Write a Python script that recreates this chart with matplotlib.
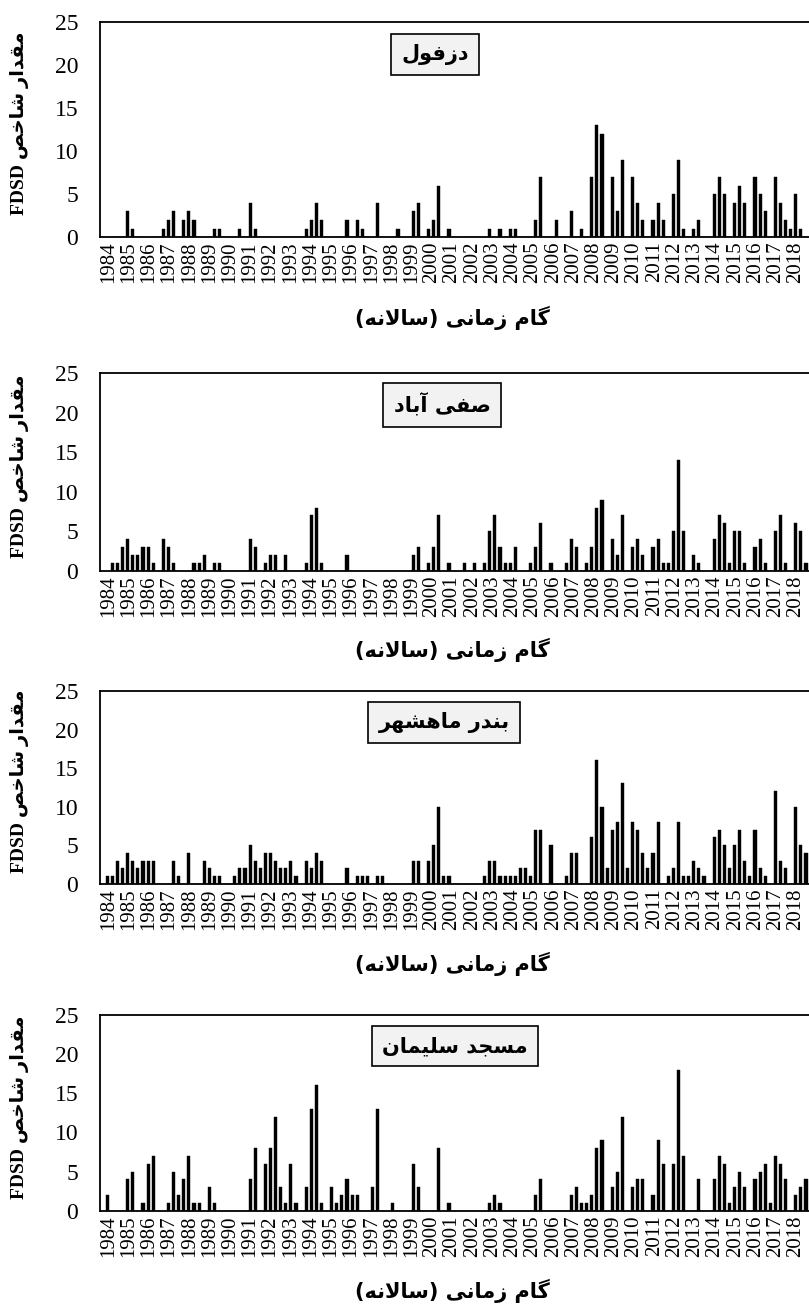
import numpy as np
import matplotlib
matplotlib.use('Agg')
import matplotlib.pyplot as plt

# ---- data (4 bars per year, 1984-2018) ----
years = list(range(1984, 2019))
stations = ['دزفول', 'صفی آباد', 'بندر ماهشهر', 'مسجد سلیمان']

dezful = [0, 0, 0, 0, 0, 3, 1, 0, 0, 0, 0, 0, 1, 2, 3, 0, 2, 3, 2, 0,
          0, 0, 1, 1, 0, 0, 0, 1, 0, 4, 1, 0, 0, 0, 0, 0, 0, 0, 0, 0,
          1, 2, 4, 2, 0, 0, 0, 0, 2, 0, 2, 1, 0, 0, 4, 0, 0, 0, 1, 0,
          0, 3, 4, 0, 1, 2, 6, 0, 1, 0, 0, 0, 0, 0, 0, 0, 1, 0, 1, 0,
          1, 1, 0, 0, 0, 2, 7, 0, 0, 2, 0, 0, 3, 0, 1, 0, 7, 13, 12, 0,
          7, 3, 9, 0, 7, 4, 2, 0, 2, 4, 2, 0, 5, 9, 1, 0, 1, 2, 0, 0,
          5, 7, 5, 0, 4, 6, 4, 0, 7, 5, 3, 0, 7, 4, 2, 1, 5, 1, 0, 0]

safiabad = [0, 0, 1, 1, 3, 4, 2, 2, 3, 3, 1, 0, 4, 3, 1, 0, 0, 0, 1, 1,
            2, 0, 1, 1, 0, 0, 0, 0, 0, 4, 3, 0, 1, 2, 2, 0, 2, 0, 0, 0,
            1, 7, 8, 1, 0, 0, 0, 0, 2, 0, 0, 0, 0, 0, 0, 0, 0, 0, 0, 0,
            0, 2, 3, 0, 1, 3, 7, 0, 1, 0, 0, 1, 0, 1, 0, 1, 5, 7, 3, 1,
            1, 3, 0, 0, 1, 3, 6, 0, 1, 0, 0, 1, 4, 3, 0, 1, 3, 8, 9, 0,
            4, 2, 7, 0, 3, 4, 2, 0, 3, 4, 1, 1, 5, 14, 5, 0, 2, 1, 0, 0,
            4, 7, 6, 1, 5, 5, 1, 0, 3, 4, 1, 0, 5, 7, 1, 0, 6, 5, 1, 0]

mahshahr = [0, 1, 1, 3, 2, 4, 3, 2, 3, 3, 3, 0, 0, 0, 3, 1, 0, 4, 0, 0,
            3, 2, 1, 1, 0, 0, 1, 2, 2, 5, 3, 2, 4, 4, 3, 2, 2, 3, 1, 0,
            3, 2, 4, 3, 0, 0, 0, 0, 2, 0, 1, 1, 1, 0, 1, 1, 0, 0, 0, 0,
            0, 3, 3, 0, 3, 5, 10, 1, 1, 0, 0, 0, 0, 0, 0, 1, 3, 3, 1, 1,
            1, 1, 2, 2, 1, 7, 7, 0, 5, 0, 0, 1, 4, 4, 0, 0, 6, 16, 10, 2,
            7, 8, 13, 2, 8, 7, 4, 2, 4, 8, 0, 1, 2, 8, 1, 1, 3, 2, 1, 0,
            6, 7, 5, 2, 5, 7, 3, 1, 7, 2, 1, 0, 12, 3, 2, 0, 10, 5, 4, 0]

soleyman = [0, 2, 0, 0, 0, 4, 5, 0, 1, 6, 7, 0, 0, 1, 5, 2, 4, 7, 1, 1,
            0, 3, 1, 0, 0, 0, 0, 0, 0, 4, 8, 0, 6, 8, 12, 3, 1, 6, 1, 0,
            3, 13, 16, 1, 0, 3, 1, 2, 4, 2, 2, 0, 0, 3, 13, 0, 0, 1, 0, 0,
            0, 6, 3, 0, 0, 0, 8, 0, 1, 0, 0, 0, 0, 0, 0, 0, 1, 2, 1, 0,
            0, 0, 0, 0, 0, 2, 4, 0, 0, 0, 0, 0, 2, 3, 1, 1, 2, 8, 9, 0,
            3, 5, 12, 0, 3, 4, 4, 0, 2, 9, 6, 0, 6, 18, 7, 0, 0, 4, 0, 0,
            4, 7, 6, 1, 3, 5, 3, 0, 4, 5, 6, 1, 7, 6, 4, 0, 2, 3, 4, 0]

series = [dezful, safiabad, mahshahr, soleyman]
xlabel_fa = 'گام زمانی (سالانه)'
ylabel_fa = 'مقدار شاخص'
index_name = 'FDSD'

# ---- simple persian shaping (matplotlib has no complex text layout) ----
AR_FORMS = {
    'ا': ('\ufe8d', '\ufe8e', None, None),
    'آ': ('\ufe81', '\ufe82', None, None),
    'ب': ('\ufe8f', '\ufe90', '\ufe91', '\ufe92'),
    'ج': ('\ufe9d', '\ufe9e', '\ufe9f', '\ufea0'),
    'خ': ('\ufea5', '\ufea6', '\ufea7', '\ufea8'),
    'د': ('\ufea9', '\ufeaa', None, None),
    'ر': ('\ufead', '\ufeae', None, None),
    'ز': ('\ufeaf', '\ufeb0', None, None),
    'س': ('\ufeb1', '\ufeb2', '\ufeb3', '\ufeb4'),
    'ش': ('\ufeb5', '\ufeb6', '\ufeb7', '\ufeb8'),
    'ص': ('\ufeb9', '\ufeba', '\ufebb', '\ufebc'),
    'ف': ('\ufed1', '\ufed2', '\ufed3', '\ufed4'),
    'ق': ('\ufed5', '\ufed6', '\ufed7', '\ufed8'),
    'ل': ('\ufedd', '\ufede', '\ufedf', '\ufee0'),
    'م': ('\ufee1', '\ufee2', '\ufee3', '\ufee4'),
    'ن': ('\ufee5', '\ufee6', '\ufee7', '\ufee8'),
    'ه': ('\ufee9', '\ufeea', '\ufeeb', '\ufeec'),
    'و': ('\ufeed', '\ufeee', None, None),
    'ی': ('\ufbfc', '\ufbfd', '\ufbfe', '\ufbff'),
    'گ': ('\ufb92', '\ufb93', '\ufb94', '\ufb95'),
}


def rtl(text):
    out = []
    i, n = 0, len(text)
    while i < n:
        c = text[i]
        prev = text[i - 1] if i > 0 else ''
        joins_prev = prev in AR_FORMS and AR_FORMS[prev][2] is not None
        if c == 'ل' and i + 1 < n and text[i + 1] == 'ا':
            out.append('\ufefc' if joins_prev else '\ufefb')
            i += 2
            continue
        if c in AR_FORMS:
            iso, fin, ini, med = AR_FORMS[c]
            nxt = text[i + 1] if i + 1 < n else ''
            joins_next = ini is not None and nxt in AR_FORMS
            if joins_prev and joins_next:
                out.append(med)
            elif joins_prev:
                out.append(fin)
            elif joins_next:
                out.append(ini)
            else:
                out.append(iso)
        else:
            out.append(c)
        i += 1
    vis = ''.join(reversed(out))
    return vis.translate(str.maketrans('()', ')('))


W, H = 809, 1307
fig = plt.figure(figsize=(W / 100, H / 100), dpi=100)

# panel frames in pixels: (top, baseline)
frames = [(22, 237.3), (373.3, 570.7), (691, 883.7), (1015, 1210.7)]
box_centers = [(435, 54.5), (442, 405), (444, 722.5), (455, 1046)]
xlabel_y = [318, 650, 964, 1291]

left_px, width_px = 99.65, 714.0
tick_pos = 1.2 + 3.965 * np.arange(len(years))
serif = 'Liberation Serif'

for k, vals in enumerate(series):
    top, base = frames[k]
    ax = fig.add_axes([left_px / W, 1 - base / H, width_px / W, (base - top) / H])
    x = np.arange(len(vals))
    ax.bar(x, vals, width=0.62, color='black', edgecolor='black', linewidth=0.3)
    ax.set_xlim(-0.5, len(vals) - 0.5)
    ax.set_ylim(0, 25)
    ax.set_yticks(range(0, 26, 5))
    ax.set_yticklabels([str(v) for v in range(0, 26, 5)], fontsize=17, family=serif)
    ax.set_xticks(tick_pos)
    ax.set_xticklabels([str(y) for y in years], rotation=90, fontsize=15, family=serif)
    ax.tick_params(axis='x', length=0, pad=3.2)
    ax.tick_params(axis='y', length=0, pad=15.5)
    for sp in ax.spines.values():
        sp.set_linewidth(1.3)
        sp.set_color('black')

    cx, cy = box_centers[k]
    fig.text(cx / W, 1 - cy / H, rtl(stations[k]), ha='center', va='center',
             fontsize=15, weight='bold', family='DejaVu Sans',
             bbox=dict(boxstyle='square,pad=0.5', fc='#f2f2f2', ec='black', lw=1.2))

    fig.text(452 / W, 1 - xlabel_y[k] / H, rtl(xlabel_fa), ha='center', va='center',
             fontsize=15, weight='bold', family='DejaVu Sans')

    fig.text(20 / W, 1 - ((top + base) / 2 - 6) / H, index_name + ' ' + rtl(ylabel_fa),
             rotation=90, ha='center', va='center', fontsize=14, weight='bold',
             family=[serif, 'DejaVu Sans'])

fig.savefig('out.png', dpi=100)
